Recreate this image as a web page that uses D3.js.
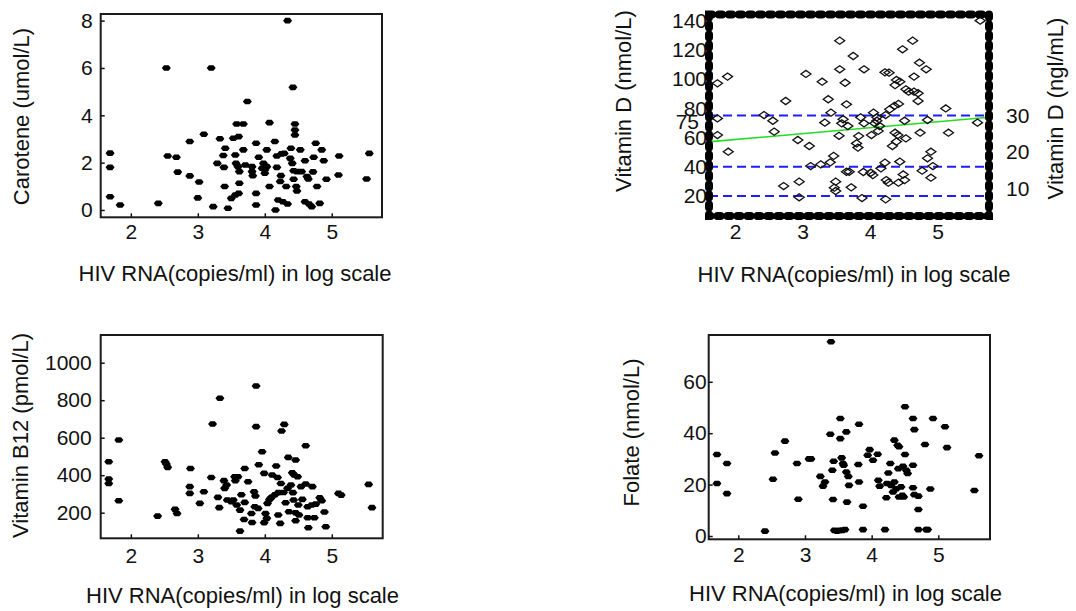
<!DOCTYPE html>
<html lang="en">
<head>
<meta charset="UTF-8">
<title>HIV RNA and micronutrients</title>
<script src="https://cdn.jsdelivr.net/npm/d3@7"></script>
<style>
*{margin:0; padding:0;}
body{background:#fff;}
svg text{font-family:"Liberation Sans", Arial, sans-serif; fill:#111;}
</style>
</head>
<body>
<script>
// shared x axis
var xTicks = [2, 3, 4, 5];
var xTitle = "HIV RNA(copies/ml) in log scale";

// carotene (umol/L) vs log HIV RNA
var caroteneTicks = [0, 2, 4, 6, 8];
var carotene = [
	[1.69,2.4],[1.69,1.8],[1.69,0.56],[1.84,0.21],[2.41,0.28],[2.53,6.0],[2.55,2.28],[2.68,2.23],[2.70,1.6],
	[2.88,2.89],[2.88,1.44],[3.02,1.18],[3.00,0.51],[3.09,3.2],[3.20,6.0],[3.23,0.14],[3.29,1.97],[3.33,3.01],
	[3.38,2.3],[3.41,2.61],[3.39,1.8],[3.40,0.99],[3.45,0.07],[3.50,0.49],[3.56,0.63],[3.61,0.7],[3.56,2.32],
	[3.53,3.03],[3.61,3.1],[3.58,3.63],[3.68,3.63],[3.57,1.97],[3.60,1.83],[3.62,1.62],[3.62,1.13],[3.68,2.54],
	[3.71,1.9],[3.74,4.58],[3.81,1.83],[3.81,1.62],[3.82,1.45],[3.87,2.82],[3.87,0.7],[3.87,0.21],[3.91,2.23],
	[3.96,1.76],[3.98,1.97],[4.00,1.55],[4.03,1.83],[4.00,1.69],[4.03,2.54],[4.07,3.69],[4.07,0.99],[4.15,2.89],
	[4.18,1.8],[4.18,2.28],[4.16,0.0],[4.20,0.42],[4.23,1.2],[4.24,1.45],[4.27,0.35],[4.32,0.99],[4.34,0.25],
	[4.25,2.37],[4.29,2.39],[4.34,8.0],[4.38,2.18],[4.39,2.61],[4.41,1.97],[4.42,5.18],[4.45,3.63],[4.45,3.38],
	[4.45,3.17],[4.43,1.66],[4.43,1.3],[4.47,0.99],[4.48,0.8],[4.53,2.54],[4.48,1.62],[4.55,1.62],[4.60,2.08],
	[4.60,0.35],[4.63,1.41],[4.65,1.31],[4.66,0.25],[4.70,0.14],[4.72,1.61],[4.73,2.23],[4.76,2.82],[4.78,0.99],
	[4.82,0.28],[4.85,2.54],[4.88,2.08],[4.92,1.3],[5.10,1.48],[5.11,2.28],[5.52,1.31],[5.56,2.39]
];

// vitamin D (nmol/L), right axis in ng/mL
var vitDTicks = [20, 40, 60, 75, 80, 100, 120, 140];
var vitDRightTicks = [10, 20, 30];
var vitDCutoffs = [20, 40, 75];
var vitDFit = [[1.6, 57], [5.8, 74]];
var vitD = [
	[1.74,97.1],[1.89,101.7],[1.74,73.1],[1.74,61.7],[1.90,50.3],[2.43,75.4],[2.56,71.5],[2.58,64.0],[2.75,85.0],
	[2.72,26.8],[2.93,58.3],[2.95,29.8],[2.95,19.1],[3.05,103.5],[3.10,54.2],[3.12,40.5],[3.27,41.6],[3.29,98.2],
	[3.33,70.2],[3.38,86.2],[3.42,77.0],[3.41,43.0],[3.46,47.4],[3.49,29.8],[3.47,25.7],[3.49,23.4],[3.55,126.3],
	[3.55,106.7],[3.63,97.5],[3.58,69.7],[3.54,61.2],[3.65,82.7],[3.60,72.5],[3.67,67.9],[3.65,36.6],[3.69,36.6],
	[3.72,25.9],[3.75,115.8],[3.80,56.0],[3.82,53.1],[3.83,61.0],[3.86,73.8],[3.91,106.7],[3.91,69.7],[3.88,18.6],
	[3.90,36.4],[4.01,35.9],[4.05,77.0],[4.02,61.7],[4.07,69.7],[4.10,73.8],[4.04,34.3],[4.10,71.5],[4.14,67.9],
	[4.12,64.5],[4.16,38.9],[4.22,42.8],[4.22,104.6],[4.24,30.9],[4.27,29.1],[4.23,17.7],[4.23,75.4],[4.28,104.4],
	[4.29,79.3],[4.36,81.6],[4.42,83.0],[4.33,54.2],[4.37,63.3],[4.39,57.2],[4.41,61.7],[4.42,29.1],[4.44,43.5],
	[4.37,95.9],[4.39,99.4],[4.44,98.2],[4.48,120.4],[4.49,34.7],[4.53,59.4],[4.51,30.9],[4.51,71.5],[4.53,93.0],
	[4.57,91.4],[4.63,126.3],[4.65,101.7],[4.65,91.4],[4.71,90.3],[4.73,111.2],[4.71,85.0],[4.74,63.3],[4.77,37.3],
	[4.83,106.7],[4.85,72.0],[4.85,45.8],[4.90,50.3],[4.90,32.5],[4.93,40.5],[5.12,79.9],[5.16,63.3],[5.59,70.2],
	[5.63,140.0]
];

// vitamin B12 (pmol/L)
var b12Ticks = [200, 400, 600, 800, 1000];
var b12 = [
	[1.67,472],[1.67,380],[1.67,356],[1.82,588],[1.82,264],[2.40,182],[2.51,472],[2.53,460],[2.55,442],[2.66,218],
	[2.69,196],[2.89,436],[2.88,339],[2.88,303],[3.03,250],[3.09,312],[3.22,673],[3.33,810],[3.20,388],[3.30,282],
	[3.32,227],[3.39,371],[3.40,330],[3.43,348],[3.44,268],[3.50,259],[3.53,268],[3.55,392],[3.60,392],[3.56,371],
	[3.58,241],[3.63,214],[3.63,102],[3.65,296],[3.70,436],[3.70,255],[3.69,164],[3.75,365],[3.80,196],[3.81,148],
	[3.84,312],[3.86,289],[3.85,232],[3.87,876],[3.87,659],[3.90,223],[3.91,456],[3.96,525],[3.99,410],[4.01,196],
	[3.99,147],[4.03,170],[4.04,250],[4.07,271],[4.10,282],[4.11,401],[4.15,296],[4.17,449],[4.19,388],[4.20,188],
	[4.23,143],[4.20,307],[4.24,356],[4.25,636],[4.29,671],[4.28,308],[4.31,253],[4.35,495],[4.34,330],[4.36,205],
	[4.39,348],[4.41,413],[4.44,401],[4.42,307],[4.43,268],[4.46,481],[4.46,200],[4.46,157],[4.49,392],[4.50,241],
	[4.51,188],[4.54,339],[4.56,271],[4.61,557],[4.61,353],[4.64,232],[4.64,173],[4.65,120],[4.71,339],[4.70,241],
	[4.74,173],[4.76,246],[4.82,280],[4.85,264],[4.89,204],[4.91,125],[5.10,303],[5.14,294],[5.55,351],[5.60,227]
];

// folate (nmol/L)
var folateTicks = [0, 20, 40, 60];
var folate = [
	[1.68,31.7],[1.68,20.4],[1.83,28.2],[1.83,16.5],[2.40,1.9],[2.52,22.1],[2.55,32.3],[2.70,36.9],[2.88,28.2],
	[2.90,14.3],[3.06,30.0],[3.09,30.0],[3.23,23.2],[3.27,19.4],[3.30,21.0],[3.39,75.6],[3.38,39.6],[3.41,25.6],
	[3.42,14.2],[3.43,29.1],[3.44,2.2],[3.48,1.9],[3.52,2.2],[3.56,2.2],[3.60,2.5],[3.53,45.7],[3.53,37.9],
	[3.55,30.4],[3.57,28.2],[3.58,27.5],[3.62,40.5],[3.62,24.9],[3.65,23.2],[3.66,19.7],[3.63,13.2],[3.81,43.5],
	[3.80,27.8],[3.81,21.0],[3.87,11.6],[3.87,2.5],[3.94,31.4],[3.97,33.6],[4.02,29.5],[4.09,31.8],[4.10,21.7],
	[4.12,19.4],[4.20,2.5],[4.22,14.9],[4.23,20.4],[4.25,24.5],[4.28,28.2],[4.29,19.7],[4.32,17.1],[4.34,37.3],
	[4.34,21.0],[4.37,18.4],[4.39,35.3],[4.41,34.7],[4.40,26.2],[4.41,15.2],[4.44,19.1],[4.46,15.8],[4.47,27.1],
	[4.48,15.2],[4.50,50.3],[4.50,31.7],[4.52,25.6],[4.54,24.3],[4.62,45.7],[4.64,41.4],[4.62,27.5],[4.62,18.8],
	[4.64,16.1],[4.70,10.3],[4.70,15.5],[4.70,2.5],[4.80,35.6],[4.82,2.5],[4.84,2.5],[4.88,18.3],[4.92,45.7],
	[5.10,42.5],[5.13,34.4],[5.54,17.7],[5.61,31.2]
];

var svg = d3.select("body").append("svg")
	.attr("width", 1076)
	.attr("height", 611);

// filled blob marker and open diamond marker
var blob = "M-4.5,0L-2.3,-2.8L2.3,-2.8L4.5,0L2.3,2.8L-2.3,2.8Z";
var diamond = "M-5,0L0,-3.6L5,0L0,3.6Z";
var fmt = d3.format("d");

function panel(o) {
	var g = svg.append("g");
	var x = d3.scaleLinear().domain(o.xDomain).range([o.left, o.right]);
	var y = d3.scaleLinear().domain(o.yDomain).range([o.bottom, o.top]);

	var xa = g.append("g")
		.attr("transform", "translate(0," + o.bottom + ")")
		.call(d3.axisBottom(x).tickValues(xTicks).tickFormat(fmt).tickSize(o.tick).tickPadding(o.xPad));
	var ya = g.append("g")
		.attr("transform", "translate(" + o.left + ",0)")
		.call(d3.axisLeft(y).tickValues(o.yTicks).tickFormat(fmt).tickSize(o.tick).tickPadding(o.yPad));
	[xa, ya].forEach(function(a){
		a.select(".domain").remove();
		a.attr("font-size", null).attr("font-family", null);
		a.selectAll("line").attr("stroke", "#111").attr("stroke-width", 1.5);
		a.selectAll("text").style("font-size", "21px").attr("fill", "#111");
	});

	g.append("text")
		.attr("x", o.xTitle[0]).attr("y", o.xTitle[1])
		.attr("text-anchor", "middle")
		.style("font-size", "22px")
		.text(xTitle);
	g.append("text")
		.attr("transform", "translate(" + o.yTitle[0] + "," + o.yTitle[1] + ") rotate(-90)")
		.attr("text-anchor", "middle")
		.style("font-size", "22px")
		.text(o.yLabel);
	return {g: g, x: x, y: y, xa: xa, ya: ya};
}

function frame(p, o) {
	p.g.append("rect")
		.attr("x", o.left).attr("y", o.top)
		.attr("width", o.right - o.left).attr("height", o.bottom - o.top)
		.attr("fill", "none").attr("stroke", "#1a1a1a").attr("stroke-width", 2);
}

function filledPoints(p, data) {
	p.g.append("g").selectAll("path")
		.data(data).enter().append("path")
		.attr("d", blob)
		.attr("fill", "#000")
		.attr("transform", function(d){ return "translate(" + p.x(d[0]) + "," + p.y(d[1]) + ")"; });
}

// top left: carotene
var o1 = {left: 100.7, right: 382, top: 14, bottom: 217.3, xDomain: [1.55, 5.75], yDomain: [-0.31, 8.28],
	yTicks: caroteneTicks, tick: -4, xPad: 7, yPad: 8, xTitle: [235, 281], yTitle: [29, 116.5], yLabel: "Carotene (umol/L)"};
var p1 = panel(o1);
filledPoints(p1, carotene);
frame(p1, o1);

// top right: vitamin D
var o2 = {left: 709, right: 989, top: 14.5, bottom: 216, xDomain: [1.615, 5.76], yDomain: [6.3, 144.2],
	yTicks: vitDTicks, tick: 0, xPad: 8, yPad: 2, xTitle: [854, 281.7], yTitle: [631, 101], yLabel: "Vitamin D (nmol/L)"};
var p2 = panel(o2);
// the 75 label sits a little left of and below its tick, overlapping 80 as in the original
p2.ya.selectAll("text").filter(function(d){ return d === 75; })
	.attr("transform", "translate(-8,6)");
p2.g.append("g").selectAll("line")
	.data(vitDCutoffs).enter().append("line")
	.attr("x1", o2.left).attr("x2", o2.right)
	.attr("y1", function(d){ return p2.y(d); })
	.attr("y2", function(d){ return p2.y(d); })
	.attr("stroke", "#1e1eff").attr("stroke-width", 2)
	.attr("stroke-dasharray", "9 5");
p2.g.append("path")
	.datum(vitDFit)
	.attr("d", d3.line().x(function(d){ return p2.x(d[0]); }).y(function(d){ return p2.y(d[1]); }))
	.attr("fill", "none").attr("stroke", "#22dd22").attr("stroke-width", 1.6);
p2.g.append("g").selectAll("path")
	.data(vitD).enter().append("path")
	.attr("d", diamond)
	.attr("fill", "none").attr("stroke", "#111").attr("stroke-width", 1.3)
	.attr("transform", function(d){ return "translate(" + p2.x(d[0]) + "," + p2.y(d[1]) + ")"; });
// right axis in ng/mL (1 ng/mL = 2.5 nmol/L)
p2.g.append("g").selectAll("text")
	.data(vitDRightTicks).enter().append("text")
	.attr("x", 1006)
	.attr("y", function(d){ return p2.y(d * 2.5); })
	.attr("dy", "0.35em")
	.style("font-size", "21px")
	.text(function(d){ return d; });
p2.g.append("text")
	.attr("transform", "translate(1063,108.5) rotate(-90)")
	.attr("text-anchor", "middle")
	.style("font-size", "22px")
	.text("Vitamin D (ngl/mL)");
p2.g.append("rect")
	.attr("x", o2.left).attr("y", o2.top)
	.attr("width", o2.right - o2.left).attr("height", o2.bottom - o2.top)
	.attr("fill", "none").attr("stroke", "#000").attr("stroke-width", 8)
	.attr("stroke-linecap", "round").attr("stroke-dasharray", "3 7");

// bottom left: vitamin B12
var o3 = {left: 100.7, right: 382.7, top: 335, bottom: 538.3, xDomain: [1.55, 5.76], yDomain: [63.5, 1147.7],
	yTicks: b12Ticks, tick: -4, xPad: 10, yPad: 9, xTitle: [242.5, 603], yTitle: [28, 435.5], yLabel: "Vitamin B12 (pmol/L)"};
var p3 = panel(o3);
filledPoints(p3, b12);
frame(p3, o3);

// bottom right: folate
var o4 = {left: 708.7, right: 990, top: 335, bottom: 539.3, xDomain: [1.556, 5.775], yDomain: [-1.28, 78.2],
	yTicks: folateTicks, tick: -4, xPad: 8, yPad: 2, xTitle: [845.5, 600.7], yTitle: [639, 432.5], yLabel: "Folate (nmol/L)"};
var p4 = panel(o4);
filledPoints(p4, folate);
frame(p4, o4);
</script>
</body>
</html>
